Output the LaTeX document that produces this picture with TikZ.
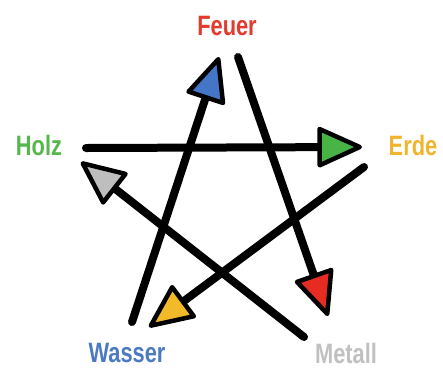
\documentclass[tikz,border=0pt]{standalone}
\usepackage{fontspec}
\usepackage{graphicx}
\setmainfont{Liberation Sans}
\usetikzlibrary{arrows.meta}
\definecolor{cFire}{RGB}{226,58,44}
\definecolor{cWater}{RGB}{76,122,192}
\definecolor{cWood}{RGB}{88,182,78}
\definecolor{cEarth}{RGB}{240,180,46}
\definecolor{cMetal}{RGB}{192,192,192}
\definecolor{aFire}{RGB}{230,44,34}
\definecolor{aWater}{RGB}{68,118,200}
\definecolor{aWood}{RGB}{72,180,70}
\definecolor{aEarth}{RGB}{242,186,40}
\definecolor{aMetal}{RGB}{190,190,190}
\tikzset{
  lbl/.style={inner sep=0pt, font=\bfseries\fontsize{28}{28}\selectfont},
  stroke/.style={line width=8pt, line cap=round, draw=black},
  tipc/.style={-{Triangle[length=48pt, width=42pt, line width=4.5pt, round, fill=#1]}}
}
\newcommand{\nar}[1]{\scalebox{0.78}[1]{#1}}
\begin{document}
\begin{tikzpicture}[x=1pt,y=-1pt]
\useasboundingbox[fill=white] (0,0) rectangle (443,368);
% labels
\node[lbl, text=cFire]  (feuer)  at (227,26)  {\nar{Feuer}};
\node[lbl, text=cWood]  (holz)   at (39,145)  {\nar{Holz}};
\node[lbl, text=cEarth] (erde)   at (413,145) {\nar{Erde}};
\node[lbl, text=cWater] (wasser) at (127,353) {\nar{Wasser}};
\node[lbl, text=cMetal] (metall) at (346,353) {\nar{Metall}};
% line ends
\coordinate (wS) at (132,322);
\coordinate (fT) at (219,57);
\coordinate (fS) at (238,57);
\coordinate (mT) at (328,316);
\coordinate (hS) at (86,148);
\coordinate (eT) at (362,147);
\coordinate (eS) at (364,167);
\coordinate (wT) at (149,327);
\coordinate (mS) at (304,337);
\coordinate (hT) at (81,162);
% strokes
\draw[stroke, tipc=aWater] (wS) -- (fT);
\draw[stroke, tipc=aFire]  (fS) -- (mT);
\draw[stroke, tipc=aWood]  (hS) -- (eT);
\draw[stroke, tipc=aEarth] (eS) -- (wT);
\draw[stroke, tipc=aMetal] (mS) -- (hT);
\end{tikzpicture}
\end{document}
